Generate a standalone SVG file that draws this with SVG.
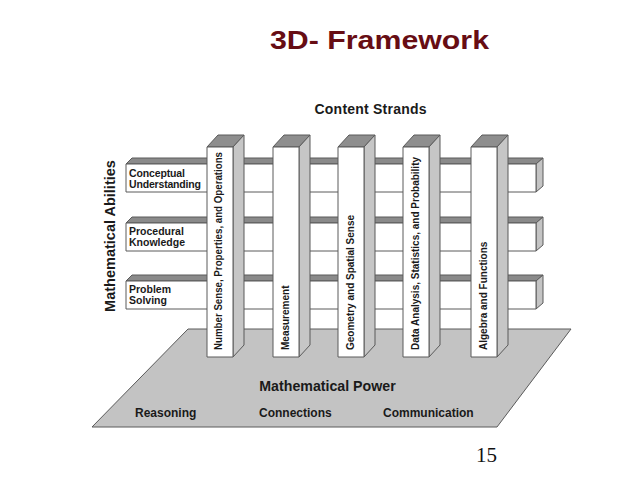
<svg xmlns="http://www.w3.org/2000/svg" width="640" height="480" viewBox="0 0 640 480">
  <style>
    .edge { stroke: #5a5a5a; stroke-width: 1; stroke-linejoin: round; }
    .front { fill: #ffffff; }
    .bartop { fill: #8a8a8a; }
    .barside { fill: #c4c4c4; }
    .ptop { fill: #8e8e8e; }
    .pside { fill: #c6c6c6; }
    .plat { fill: #c3c3c3; }
    .t { font-family: "Liberation Sans", Arial, sans-serif; font-weight: bold; fill: #1a1a1a; }
    .plabel { font-size: 10px; }
    .blabel { font-size: 10.5px; }
  </style>
  <rect width="640" height="480" fill="#ffffff"/>

  <g id="title">
    <text x="270" y="49" font-family="Liberation Sans, Arial, sans-serif" font-weight="bold" font-size="25" fill="#670d14" textLength="219" lengthAdjust="spacingAndGlyphs">3D- Framework</text>
  </g>

  <g id="platform">
    <polygon class="plat edge" points="188,329 571,329 497,427 92,427"/>
    <text class="t" x="327.5" y="391" font-size="14.2" text-anchor="middle">Mathematical Power</text>
    <text class="t" x="135" y="417" font-size="12">Reasoning</text>
    <text class="t" x="259" y="417" font-size="12">Connections</text>
    <text class="t" x="383" y="417" font-size="12">Communication</text>
  </g>

  <g id="bar-conceptual">
    <polygon class="bartop edge" points="126,164 132,158 543,158 536,164"/>
    <polygon class="barside edge" points="536,164 543,158 543,186 536,192"/>
    <rect class="front edge" x="126" y="164" width="410" height="28"/>
    <text class="t blabel" x="129" y="177" textLength="56">Conceptual</text>
    <text class="t blabel" x="129" y="188" textLength="72">Understanding</text>
  </g>
  <g id="bar-procedural">
    <polygon class="bartop edge" points="126,223 132,217 543,217 536,223"/>
    <polygon class="barside edge" points="536,223 543,217 543,245 536,251"/>
    <rect class="front edge" x="126" y="223" width="410" height="28"/>
    <text class="t blabel" x="129" y="235">Procedural</text>
    <text class="t blabel" x="129" y="246">Knowledge</text>
  </g>
  <g id="bar-problem">
    <polygon class="bartop edge" points="126,281 132,275 543,275 536,281"/>
    <polygon class="barside edge" points="536,281 543,275 543,303 536,309"/>
    <rect class="front edge" x="126" y="281" width="410" height="28"/>
    <text class="t blabel" x="129" y="293">Problem</text>
    <text class="t blabel" x="129" y="304">Solving</text>
  </g>

  <g id="pillar-number">
    <polygon class="ptop edge" points="207,147 218,135 244,135 233,147"/>
    <polygon class="pside edge" points="233,147 244,135 244,345 233,357"/>
    <rect class="front edge" x="207" y="147" width="26" height="210"/>
    <text class="t plabel" transform="translate(222,350) rotate(-90)" textLength="198" lengthAdjust="spacingAndGlyphs">Number Sense, Properties, and Operations</text>
  </g>
  <g id="pillar-measurement">
    <polygon class="ptop edge" points="273,147 284,135 310,135 299,147"/>
    <polygon class="pside edge" points="299,147 310,135 310,345 299,357"/>
    <rect class="front edge" x="273" y="147" width="26" height="210"/>
    <text class="t plabel" transform="translate(289,350) rotate(-90)">Measurement</text>
  </g>
  <g id="pillar-geometry">
    <polygon class="ptop edge" points="338,147 349,135 375,135 364,147"/>
    <polygon class="pside edge" points="364,147 375,135 375,345 364,357"/>
    <rect class="front edge" x="338" y="147" width="26" height="210"/>
    <text class="t plabel" transform="translate(354,350) rotate(-90)">Geometry and Spatial Sense</text>
  </g>
  <g id="pillar-data">
    <polygon class="ptop edge" points="403,147 414,135 440,135 429,147"/>
    <polygon class="pside edge" points="429,147 440,135 440,345 429,357"/>
    <rect class="front edge" x="403" y="147" width="26" height="210"/>
    <text class="t plabel" transform="translate(419,350) rotate(-90)">Data Analysis, Statistics, and Probability</text>
  </g>
  <g id="pillar-algebra">
    <polygon class="ptop edge" points="471,147 482,135 508,135 497,147"/>
    <polygon class="pside edge" points="497,147 508,135 508,345 497,357"/>
    <rect class="front edge" x="471" y="147" width="26" height="210"/>
    <text class="t plabel" transform="translate(487,350) rotate(-90)">Algebra and Functions</text>
  </g>

  <g id="content-strands">
    <text class="t" x="370.5" y="114" font-size="14" text-anchor="middle" textLength="112">Content Strands</text>
  </g>
  <g id="mathematical-abilities">
    <text class="t" transform="translate(115,236) rotate(-90)" font-size="14.5" text-anchor="middle">Mathematical Abilities</text>
  </g>
  <g id="page-number">
    <text x="476" y="462" font-family="Liberation Serif, 'Times New Roman', serif" font-size="21" fill="#111111">15</text>
  </g>
  <g id="connectors"></g>
</svg>
